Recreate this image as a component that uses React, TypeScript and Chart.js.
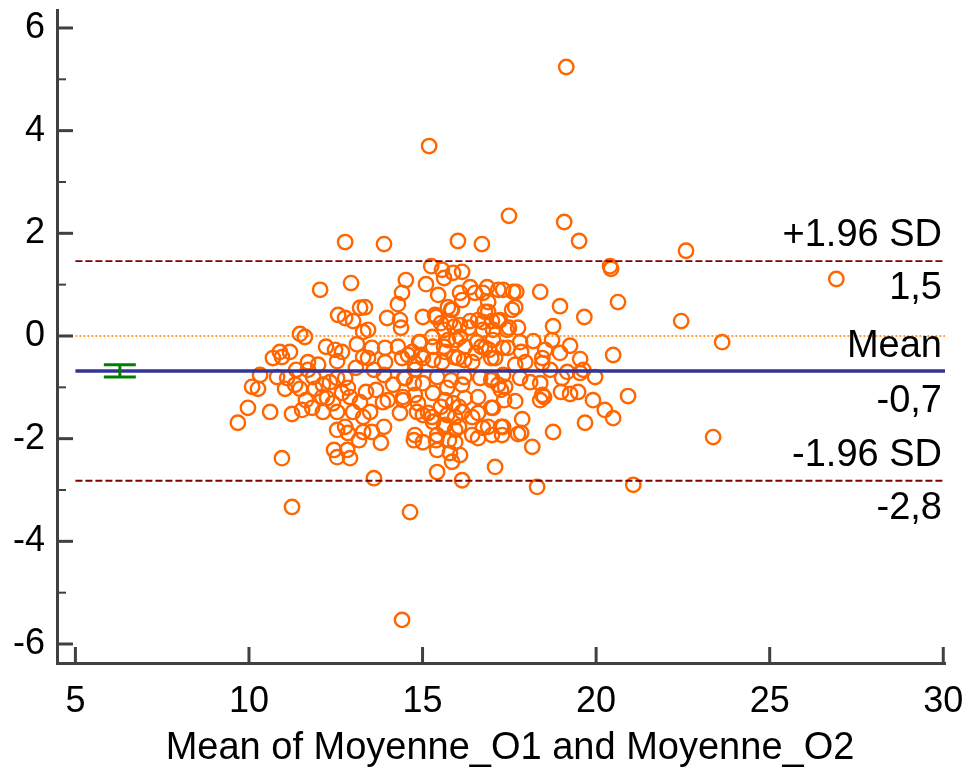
import React, { useEffect, useRef } from 'react';
import { Chart, registerables } from 'chart.js';

Chart.register(...registerables);

// Mean of the two measurements (x)
const meanValues: number[] = [
  19.14, 15.19, 17.49, 19.08, 12.77, 13.89, 16.02, 16.71, 19.51, 22.59, 20.40, 20.43, 26.92, 12.05, 12.94,
  15.25, 15.56, 15.88, 16.14, 15.62, 14.52, 15.10, 14.41, 15.45, 16.08, 16.37, 16.51, 16.74, 16.86, 17.18,
  16.89, 16.14, 15.73, 15.85, 14.29, 13.98, 14.35, 14.38, 15.01, 15.36, 15.53, 15.79, 16.08, 16.37, 16.60,
  16.80, 17.00, 13.34, 13.43, 16.74, 17.03, 17.18, 13.54, 13.92, 14.29, 14.70, 14.93, 15.28, 15.30, 15.65,
  15.73, 16.08, 16.22, 16.57, 16.80, 17.03, 15.01, 15.56, 16.02, 16.43, 17.09, 13.92, 14.41, 13.43, 14.78,
  13.20, 12.57, 12.77, 13.00, 13.29, 11.47, 11.61, 13.11, 12.48, 12.68, 11.18, 10.89, 10.69, 10.95, 11.70,
  11.99, 12.54, 13.29,
  10.32, 10.09, 10.26, 10.81, 11.10, 11.04, 11.33, 11.47, 11.70, 11.85, 11.90, 12.13, 12.33, 12.54, 12.77,
  12.85, 12.25, 12.11, 12.42, 12.68, 12.91, 13.20, 9.97, 10.61, 11.24, 11.53, 11.82, 12.13, 12.54, 9.68,
  12.54, 12.77, 12.85, 13.29, 13.29, 10.95, 12.45, 12.54, 12.83, 12.91, 11.24,
  13.66, 13.60, 13.89, 14.00, 13.86, 14.35, 14.44, 14.15, 14.50, 14.78, 14.78, 14.84, 15.01, 15.27, 15.01,
  15.30, 15.42, 15.71, 15.65, 15.88, 15.94, 15.71, 16.14, 16.22, 16.14, 16.43, 16.60, 17.03, 17.00, 16.66,
  17.18, 13.49, 13.54, 13.89, 13.80, 14.78, 15.01, 15.42, 15.65, 15.94, 15.94, 15.42, 15.79, 16.08, 15.85,
  16.43, 16.60, 16.89, 17.00, 15.42, 16.14, 17.09, 13.60, 14.64,
  17.32, 17.81, 18.10, 18.39, 19.02, 19.63, 19.97, 17.38, 17.67, 18.45, 18.39, 19.25, 19.48, 19.91, 20.25,
  20.49, 20.92, 17.87, 17.32, 17.29, 17.75, 18.16, 18.76, 19.68, 18.30, 21.07,
  18.39, 18.96, 20.63, 19.66, 18.76, 17.61, 17.32, 17.67, 17.58, 17.23, 17.43, 17.75, 17.81, 18.19, 18.73,
  19.25, 18.53, 18.96, 19.54, 20.49, 17.32, 18.45,
  23.63, 22.45, 23.37, 14.41,
  15.62, 15.91, 16.34, 17.49, 14.90, 15.62, 15.97, 16.69, 16.92, 17.46, 17.84, 14.58, 14.96, 15.30, 15.91,
  16.20, 16.54, 16.98, 17.67, 17.96, 18.45, 18.68, 19.17, 19.54, 18.99, 18.50, 17.26, 16.98, 16.20, 15.82,
  14.75, 14.47, 14.44, 14.87, 15.16, 15.53, 16.05, 16.60, 16.98, 17.35, 15.30, 15.62, 16.05, 16.74, 17.26,
  17.84, 14.75, 15.39, 15.76, 17.70, 16.89, 15.82, 15.39, 16.74,
  12.22, 13.08, 13.37, 11.64, 11.36, 13.00, 13.17,
];

// Difference between the two measurements (y)
const diffValues: number[] = [
  5.24, 3.70, 2.34, 2.22, 1.83, 1.79, 1.85, 1.79, 1.85, 1.66, 1.36, 1.31, 1.11, 0.90, 1.03,
  1.36, 1.29, 1.23, 1.25, 1.13, 1.09, 1.01, 0.84, 0.80, 0.84, 0.95, 0.84, 0.84, 0.95, 0.90,
  0.66, 0.70, 0.56, 0.51, 0.62, 0.35, 0.31, 0.16, 0.37, 0.41, 0.25, 0.27, 0.21, 0.29, 0.31,
  0.47, 0.29, 0.56, 0.12, 0.12, 0.12, 0.29, -0.23, -0.23, -0.21, -0.31, -0.12, -0.02, -0.21, -0.31,
  -0.08, -0.02, -0.21, -0.12, -0.23, -0.08, -0.43, -0.51, -0.43, -0.51, -0.43, -0.51, -0.43, -0.43, -0.53,
  0.55, 0.41, 0.35, 0.29, 0.08, 0.04, -0.02, -0.16, -0.27, -0.31, -0.31, -0.31, -0.43, -0.41, -0.51,
  -0.56, -0.49, -0.41,
  -0.76, -0.99, -1.03, -0.80, -0.82, -1.03, -0.95, -1.03, -0.66, -0.80, -1.03, -0.95, -0.90, -0.82, -0.82,
  -1.01, -1.21, -1.19, -1.31, -1.11, -1.19, -1.29, -1.40, -1.48, -1.52, -1.44, -1.40, -1.48, -1.48, -1.69,
  -1.83, -1.77, -1.89, -1.87, -1.58, -2.38, -2.22, -2.36, -2.22, -2.38, -3.33,
  -1.05, -0.66, -0.76, -1.25, -1.29, -1.50, -1.25, -0.95, -0.82, -0.66, -1.15, -1.48, -1.54, -1.58, -0.92,
  -1.11, -0.80, -1.01, -1.25, -1.31, -1.58, -1.54, -0.95, -1.21, -1.48, -1.58, -1.50, -1.40, -0.82, -0.82,
  -0.95, -1.48, -1.87, -1.77, -2.08, -1.93, -2.07, -1.93, -1.73, -1.83, -2.07, -2.22, -2.28, -2.32, -2.45,
  -1.93, -1.99, -1.77, -1.93, -2.65, -2.81, -2.55, -2.77, -3.43,
  -0.76, -0.82, -0.90, -0.92, -0.82, -0.66, -0.80, -0.99, -1.27, -1.15, -1.25, -1.13, -1.09, -1.25, -1.44,
  -1.60, -1.17, -1.62, -1.77, -1.93, -1.91, -2.16, -1.87, -1.69, -2.94, -2.90,
  0.86, 0.58, 0.66, 0.37, 0.19, 0.86, 0.90, 0.56, 0.51, 0.31, 0.12, 0.16, -0.12, -0.10, -0.08,
  -0.19, -0.27, -0.33, -0.45, -0.37, -0.23, -0.43,
  -0.12, 0.29, -1.97, -5.53,
  0.12, 0.18, 0.16, 0.16, -0.12, -0.21, -0.08, -0.21, -0.27, -0.23, -0.31, -0.37, -0.37, -0.47, -0.41,
  -0.47, -0.33, -0.43, -0.56, -0.51, -0.53, -0.66, -0.70, -0.72, -1.09, -1.19, -1.05, -0.86, -0.80, -0.86,
  -0.92, -0.82, -1.19, -1.31, -1.50, -1.38, -1.38, -1.19, -1.40, -1.25, -1.67, -1.77, -1.77, -1.79, -1.77,
  -1.89, -2.03, -2.03, -2.03, 0.86, 0.47, 0.51, 0.37, 0.27,
  -0.21, -0.62, -1.09, -1.25, -0.66, -1.48, -2.03,
];

const xTickValues = [5, 10, 15, 20, 25, 30];
const yMajorTickValues = [6, 4, 2, 0, -2, -4, -6];
const yMinorTickValues = [5, 3, 1, -1, -3, -5];

const xMin = 4.47;
const xMax = 30.05;
const yMin = -6.37;
const yMax = 6.35;

const biasMean = -0.68;
const upperLimit = 1.46;
const lowerLimit = -2.82;
const lineStartX = 5;

const ciX = 6.28;
const ciLow = -0.8;
const ciHigh = -0.56;

const upperName = '+1.96 SD';
const upperValueText = '1,5';
const meanName = 'Mean';
const meanValueText = '-0,7';
const lowerName = '-1.96 SD';
const lowerValueText = '-2,8';
const xTitle = 'Mean of Moyenne_O1 and Moyenne_O2';

const FONT = "'Liberation Sans', Arial, sans-serif";

const overlayPlugin = {
  id: 'blandAltmanOverlay',
  afterDatasetsDraw(chart: any) {
    const { ctx, chartArea: a, scales } = chart;
    const xs = scales.x;
    const ys = scales.y;
    const seg = (x1: number, y1: number, x2: number, y2: number) => {
      ctx.beginPath();
      ctx.moveTo(x1, y1);
      ctx.lineTo(x2, y2);
      ctx.stroke();
    };
    ctx.save();
    const xs0 = xs.getPixelForValue(lineStartX);

    // zero line (dotted orange)
    ctx.strokeStyle = '#FF7F00';
    ctx.lineWidth = 1.5;
    ctx.setLineDash([2, 2]);
    const y0 = ys.getPixelForValue(0);
    seg(xs0, y0, a.right, y0);

    // limits of agreement
    ctx.strokeStyle = '#800000';
    ctx.lineWidth = 1.8;
    ctx.setLineDash([7, 3]);
    const yU = ys.getPixelForValue(upperLimit);
    const yL = ys.getPixelForValue(lowerLimit);
    seg(xs0, yU, a.right, yU);
    seg(xs0, yL, a.right, yL);

    // mean line
    ctx.setLineDash([]);
    ctx.strokeStyle = '#333399';
    ctx.lineWidth = 3.5;
    const yM = ys.getPixelForValue(biasMean);
    seg(xs0, yM, a.right, yM);

    // CI of mean (green)
    ctx.strokeStyle = '#008000';
    ctx.lineWidth = 3;
    const cx = xs.getPixelForValue(ciX);
    const c1 = ys.getPixelForValue(ciLow);
    const c2 = ys.getPixelForValue(ciHigh);
    seg(cx, c1, cx, c2);
    seg(cx - 16, c1, cx + 16, c1);
    seg(cx - 16, c2, cx + 16, c2);

    // inward ticks
    ctx.strokeStyle = '#404040';
    ctx.lineWidth = 3;
    yMajorTickValues.forEach((v) => {
      const p = ys.getPixelForValue(v);
      seg(a.left, p, a.left + 16, p);
    });
    xTickValues.forEach((v) => {
      const p = xs.getPixelForValue(v);
      seg(p, a.bottom, p, a.bottom - 16);
    });
    ctx.lineWidth = 2;
    yMinorTickValues.forEach((v) => {
      const p = ys.getPixelForValue(v);
      seg(a.left, p, a.left + 9, p);
    });

    // labels on the right
    ctx.fillStyle = '#000';
    ctx.font = `38px ${FONT}`;
    ctx.textAlign = 'right';
    ctx.textBaseline = 'alphabetic';
    const rx = a.right - 3;
    ctx.fillText(upperName, rx, yU - 15);
    ctx.fillText(upperValueText, rx, yU + 38);
    ctx.fillText(meanName, rx, yM - 14);
    ctx.fillText(meanValueText, rx, yM + 41);
    ctx.fillText(lowerName, rx, yL - 15);
    ctx.fillText(lowerValueText, rx, yL + 38);

    // x-axis title
    ctx.textAlign = 'center';
    ctx.textBaseline = 'middle';
    ctx.fillText(xTitle, (a.left + a.right) / 2 + 9, a.bottom + 86);
    ctx.restore();
  },
};

export default function App() {
  const canvasRef = useRef<HTMLCanvasElement | null>(null);

  useEffect(() => {
    if (!canvasRef.current) return;
    const points = meanValues.map((x, i) => ({ x, y: diffValues[i] }));
    const chart = new Chart(canvasRef.current, {
      type: 'scatter',
      data: {
        datasets: [
          {
            data: points,
            pointStyle: 'circle',
            pointRadius: 7.2,
            pointBorderWidth: 2.4,
            borderColor: '#FF6600',
            backgroundColor: 'rgba(255,255,255,0)',
          },
        ],
      },
      options: {
        animation: false,
        responsive: false,
        devicePixelRatio: 1,
        layout: { padding: { top: 10, right: 25, left: 0, bottom: 0 } },
        plugins: { legend: { display: false }, tooltip: { enabled: false } },
        scales: {
          x: {
            type: 'linear',
            min: xMin,
            max: xMax,
            afterBuildTicks: (s: any) => {
              s.ticks = xTickValues.map((v) => ({ value: v }));
            },
            afterFit: (s: any) => {
              s.height = 109;
              s.paddingLeft = 0;
              s.paddingRight = 0;
            },
            grid: { display: false, drawTicks: false },
            border: { display: true, color: '#404040', width: 3 },
            ticks: {
              padding: 17,
              color: '#000',
              font: { size: 36, family: FONT },
              maxRotation: 0,
              autoSkip: false,
              callback: (v: any) => String(v),
            },
            title: { display: false },
          },
          y: {
            type: 'linear',
            min: yMin,
            max: yMax,
            afterBuildTicks: (s: any) => {
              s.ticks = yMajorTickValues.map((v) => ({ value: v }));
            },
            afterFit: (s: any) => {
              s.width = 57;
              s.paddingTop = 0;
              s.paddingBottom = 0;
            },
            grid: { display: false, drawTicks: false },
            border: { display: true, color: '#404040', width: 3 },
            ticks: {
              padding: 12,
              color: '#000',
              font: { size: 36, family: FONT },
              autoSkip: false,
              callback: (v: any) => String(v),
            },
          },
        },
      },
      plugins: [overlayPlugin],
    });
    return () => chart.destroy();
  }, []);

  return (
    <div style={{ position: 'fixed', left: 0, top: 0, width: 970, height: 772, background: '#fff' }}>
      <canvas ref={canvasRef} width={970} height={772} style={{ display: 'block' }} />
    </div>
  );
}
